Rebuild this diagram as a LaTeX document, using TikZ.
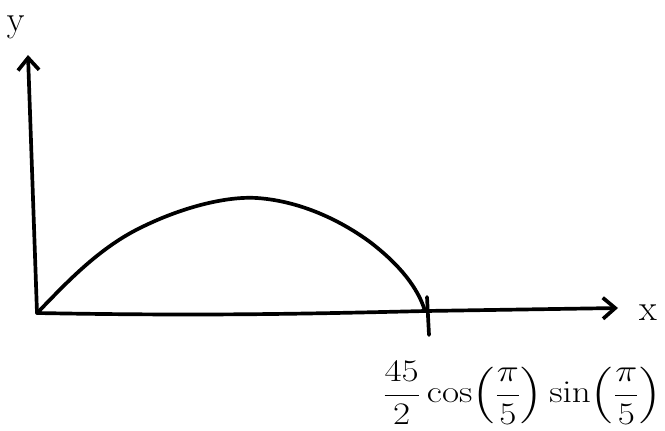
\documentclass[tikz,border=0pt]{standalone}
\usepackage{amsmath}
\usetikzlibrary{arrows.meta}
\begin{document}
\begin{tikzpicture}[x=0.02cm,y=-0.02cm,
  stroke/.style={line width=2.1pt,line cap=round,line join=round},
  axis/.style={stroke,-{Straight Barb[length=7pt,width=12pt,line width=2.1pt]}},
  lbl/.style={inner sep=0pt,font=\huge}]
\useasboundingbox (0,0) rectangle (665,430);
\coordinate (O) at (37,313);
\coordinate (ytip) at (28,55);
\coordinate (xtip) at (618,308);
\coordinate (R) at (425,311);
\coordinate (ttop) at (427,297);
\coordinate (tbot) at (429,335);
\draw[axis] (O) -- (ytip);
\draw[axis] (O) .. controls (200,316) and (300,314) .. (R) -- (xtip);
\draw[stroke] (ttop) -- (tbot);
\draw[stroke] (O) .. controls (60,290) and (95,250) .. (140,228)
  .. controls (180,208) and (225,196) .. (257,198)
  .. controls (300,201) and (340,220) .. (370,242)
  .. controls (400,265) and (418,288) .. (R);
\node[lbl] (ylab) at (16,27) {$\mathrm{y}$};
\node[lbl] (xlab) at (648,313) {$\mathrm{x}$};
\node[lbl,xscale=1.02,yscale=0.86] (val) at (522,393) {$\dfrac{45}{2}\cos\!\left(\dfrac{\pi}{5}\right)\sin\!\left(\dfrac{\pi}{5}\right)$};
\end{tikzpicture}
\end{document}
